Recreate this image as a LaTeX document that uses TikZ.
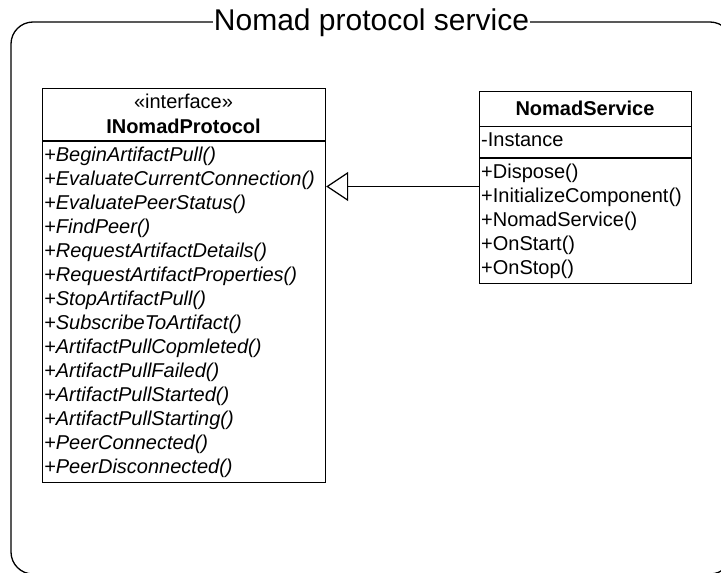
\documentclass[tikz,border=0pt]{standalone}
\usepackage{fontspec}
\setmainfont{Liberation Sans}
\usetikzlibrary{arrows.meta}
\begin{document}
\begin{tikzpicture}[x=1pt,y=-1pt,
  frame/.style={line width=1.3pt,rounded corners=22pt},
  classbox/.style={draw,line width=1.2pt,rectangle,anchor=north west,inner sep=0pt},
  sepline/.style={line width=1.2pt},
  member/.style={anchor=base west,inner sep=0pt,font=\fontsize{20}{24}\selectfont},
  abstractmember/.style={member,font=\fontsize{20}{24}\selectfont\itshape},
  heading/.style={anchor=base,inner sep=0pt,font=\fontsize{20}{24}\selectfont},
  realizes/.style={line width=1pt,-{Triangle[open,length=22pt,width=29pt,line width=1.2pt]}}]
\useasboundingbox (0,0) rectangle (721,573);
\clip (0,0) rectangle (721,573);

% package frame with its title breaking the top edge
\draw[frame] (11,22) rectangle (732,574);
\node[anchor=base,fill=white,inner xsep=1pt,inner ysep=3pt,
      font=\fontsize{30}{36}\selectfont] (title) at (371.5,30) {Nomad protocol service};

% interface INomadProtocol
\node[classbox,minimum width=283pt,minimum height=394pt] (iface) at (42,88) {};
\node[heading] (ifstereo) at (183.5,108) {«interface»};
\node[heading,font=\fontsize{20}{24}\selectfont\bfseries] (ifname) at (183.5,133) {INomadProtocol};
\draw[sepline] (iface.west |- 0,141) -- (iface.east |- 0,141);
\foreach \m [count=\i from 0] in {BeginArtifactPull,EvaluateCurrentConnection,EvaluatePeerStatus,
    FindPeer,RequestArtifactDetails,RequestArtifactProperties,StopArtifactPull,
    SubscribeToArtifact,ArtifactPullCopmleted,ArtifactPullFailed,ArtifactPullStarted,
    ArtifactPullStarting,PeerConnected,PeerDisconnected}
  \node[abstractmember] (ifop\i) at (44,161+24*\i) {+\m()};

% class NomadService
\node[classbox,minimum width=212pt,minimum height=192pt] (svc) at (479,91) {};
\node[heading,font=\fontsize{20}{24}\selectfont\bfseries] (svcname) at (585,115) {NomadService};
\draw[sepline] (svc.west |- 0,126.5) -- (svc.east |- 0,126.5);
\node[member] (svcattr) at (481,146) {-Instance};
\draw[sepline] (svc.west |- 0,158) -- (svc.east |- 0,158);
\foreach \m [count=\i from 0] in {Dispose,InitializeComponent,NomadService,OnStart,OnStop}
  \node[member] (svcop\i) at (481,178+24*\i) {+\m()};

% realization arrow
\coordinate (arrowrow) at (0,186.5);
\draw[realizes] (svc.west |- arrowrow) -- (iface.east |- arrowrow);
\end{tikzpicture}
\end{document}
